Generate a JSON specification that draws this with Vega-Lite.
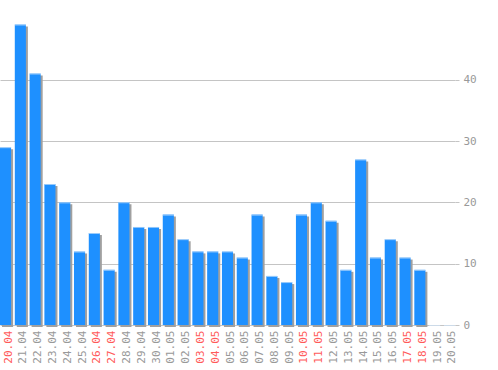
{
  "$schema": "https://vega.github.io/schema/vega-lite/v6.json",
  "width": 455,
  "height": 325,
  "autosize": "none",
  "padding": {"left": 0, "top": 0, "right": 43, "bottom": 45},
  "background": "white",
  "config": {"view": {"stroke": null}},
  "data": {"values": [
    {"day": "20.04", "count": 29},
    {"day": "21.04", "count": 49},
    {"day": "22.04", "count": 41},
    {"day": "23.04", "count": 23},
    {"day": "24.04", "count": 20},
    {"day": "25.04", "count": 12},
    {"day": "26.04", "count": 15},
    {"day": "27.04", "count": 9},
    {"day": "28.04", "count": 20},
    {"day": "29.04", "count": 16},
    {"day": "30.04", "count": 16},
    {"day": "01.05", "count": 18},
    {"day": "02.05", "count": 14},
    {"day": "03.05", "count": 12},
    {"day": "04.05", "count": 12},
    {"day": "05.05", "count": 12},
    {"day": "06.05", "count": 11},
    {"day": "07.05", "count": 18},
    {"day": "08.05", "count": 8},
    {"day": "09.05", "count": 7},
    {"day": "10.05", "count": 18},
    {"day": "11.05", "count": 20},
    {"day": "12.05", "count": 17},
    {"day": "13.05", "count": 9},
    {"day": "14.05", "count": 27},
    {"day": "15.05", "count": 11},
    {"day": "16.05", "count": 14},
    {"day": "17.05", "count": 11},
    {"day": "18.05", "count": 9},
    {"day": "19.05", "count": 0},
    {"day": "20.05", "count": 0}
  ]},
  "encoding": {
    "x": {
      "field": "day", "type": "ordinal", "sort": null,
      "scale": {"paddingInner": 0.25, "paddingOuter": 0},
      "axis": {
        "title": null, "domain": false, "ticks": false,
        "labelAngle": -90, "labelPadding": 5, "labelOffset": 3,
        "labelFont": "DejaVu Sans Mono", "labelFontSize": 11,
        "labelColor": {
          "condition": {"test": "indexof(['20.04','26.04','27.04','03.05','04.05','10.05','11.05','17.05','18.05'], datum.value) >= 0", "value": "#ff5a5a"},
          "value": "#999999"
        }
      }
    },
    "y": {
      "field": "count", "type": "quantitative",
      "scale": {"domain": [0, 53], "nice": false},
      "axis": {
        "orient": "right", "title": null, "domain": false,
        "values": [0, 10, 20, 30, 40],
        "grid": true, "gridColor": "#c4c4c4", "gridWidth": 1,
        "ticks": true, "tickSize": 4, "tickColor": "#c4c4c4",
        "labelPadding": 4,
        "labelFont": "DejaVu Sans Mono", "labelFontSize": 11, "labelColor": "#999999"
      }
    }
  },
  "layer": [
    {"mark": {"type": "bar", "color": "#a0a0a0", "xOffset": 2, "yOffset": 2}},
    {"mark": {"type": "bar", "color": "#1e90ff"}},
    {"mark": {"type": "tick", "color": "#d0e4f8", "thickness": 1, "yOffset": 0.5}}
  ]
}
